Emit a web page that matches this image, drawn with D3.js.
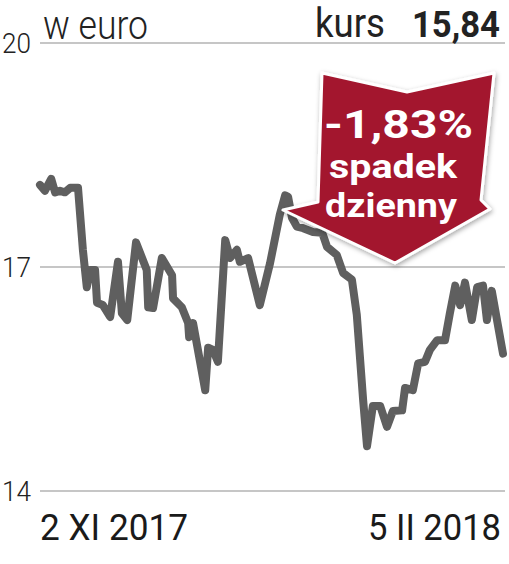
<!DOCTYPE html>
<html><head><meta charset="utf-8">
<script src="https://cdn.jsdelivr.net/npm/d3@7"></script>
<style>html,body{margin:0;padding:0;background:#fff;}svg{display:block;}</style>
</head><body>
<svg id="c" width="509" height="564"></svg>
<script>
// days since 2 XI 2017
const days = [0,1.0,2.3,3.1,4.1,5.1,6.2,7.8,8.8,9.6,10.3,11.3,11.7,12.9,14.4,16.0,16.8,17.9,19.7,21.9,22.2,23.2,25.0,27.1,27.3,29.1,30.4,30.6,31.4,33.9,34.5,35.5,36.5,38.0,39.0,40.4,41.0,42.7,45.1,47.2,49.2,50.3,50.9,51.7,52.7,54.0,56.0,57.9,58.9,60.9,62.2,64.0,65.0,66.3,67.1,68.3,69.8,71.2,72.4,74.3,74.9,76.5,77.6,79.0,80.0,81.5,83.1,84.1,85.2,86.2,87.2,88.6,89.7,90.9,91.7,92.7,95.0];
const prices = [18.10,18.02,18.18,18.00,18.02,18.00,18.06,18.06,17.23,16.73,16.96,16.96,16.52,16.49,16.33,17.07,16.38,16.29,17.33,16.96,16.46,16.45,17.12,16.89,16.58,16.46,16.25,16.06,16.25,15.35,15.92,15.89,15.73,17.36,17.12,17.23,17.07,17.12,16.49,17.05,17.70,17.96,17.94,17.66,17.54,17.52,17.47,17.46,17.27,17.16,16.92,16.83,16.36,15.22,14.60,15.14,15.14,14.86,15.07,15.08,15.38,15.35,15.71,15.73,15.89,16.02,16.02,16.38,16.75,16.49,16.79,16.29,16.73,16.75,16.29,16.68,15.84];
const yTicks = [14,17,20];
const dateLabels = ["2 XI 2017","5 II 2018"];
const unitLabel = "w euro";
const kursLabel = "kurs";
const kursValue = "15,84";
const changeLabel = "-1,83%";
const changeText = ["spadek","dzienny"];

const svg = d3.select("#c");
const x = d3.scaleLinear().domain([0,95]).range([40,503]);
const y = d3.scaleLinear().domain([14,20]).range([491,43]);

const defs = svg.append("defs");
const f = defs.append("filter").attr("id","sh").attr("x","-20%").attr("y","-20%").attr("width","140%").attr("height","140%");
f.append("feDropShadow").attr("dx",1).attr("dy",2).attr("stdDeviation",2.5).attr("flood-color","#000").attr("flood-opacity",0.35);

// grid
svg.append("g").selectAll("line").data(yTicks).join("line")
  .attr("x1",40).attr("x2",505).attr("y1",d=>y(d)).attr("y2",d=>y(d))
  .attr("stroke","#b3b3b3").attr("stroke-width",1.6);
svg.append("g").selectAll("text").data(yTicks).join("text")
  .attr("x",2).attr("y",d=>y(d)+10).attr("font-family","Roboto").attr("font-weight",300)
  .attr("font-size",28).attr("fill","#222").attr("textLength",29).attr("lengthAdjust","spacingAndGlyphs")
  .text(d=>d);

// header
svg.append("text").attr("x",43).attr("y",38.5).attr("font-family","Roboto").attr("font-weight",300)
  .attr("font-size",40).attr("fill","#222").attr("textLength",105).attr("lengthAdjust","spacingAndGlyphs").text(unitLabel);
svg.append("text").attr("x",315).attr("y",37).attr("font-family","Roboto").attr("font-weight",400)
  .attr("font-size",41).attr("fill","#222").attr("textLength",70).attr("lengthAdjust","spacingAndGlyphs").text(kursLabel);
svg.append("text").attr("x",412).attr("y",37).attr("font-family","Roboto").attr("font-weight",700)
  .attr("font-size",36).attr("fill","#222").attr("textLength",88).attr("lengthAdjust","spacingAndGlyphs").text(kursValue);

// line
const pts = days.map((d,i)=>[d,prices[i]]);
svg.append("path").datum(pts)
  .attr("d",d3.line().x(d=>x(d[0])).y(d=>y(d[1])))
  .attr("fill","none").attr("stroke","#5f5f5f").attr("stroke-width",8)
  .attr("stroke-linejoin","round").attr("stroke-linecap","round");

// bottom labels
svg.append("text").attr("x",40).attr("y",540).attr("font-family","Roboto").attr("font-weight",400)
  .attr("font-size",37).attr("fill","#1a1a1a").attr("textLength",148).attr("lengthAdjust","spacingAndGlyphs").text(dateLabels[0]);
svg.append("text").attr("x",368).attr("y",540).attr("font-family","Roboto").attr("font-weight",400)
  .attr("font-size",36).attr("fill","#1a1a1a").attr("textLength",133).attr("lengthAdjust","spacingAndGlyphs").text(dateLabels[1]);

// arrow
const arrow = [[322,73],[407,92],[494,73],[481,200],[490,209],[395,263],[283,210],[318,202]];
svg.append("path").attr("d","M"+arrow.map(p=>p.join(",")).join("L")+"Z")
  .attr("fill","#a3172f").attr("stroke","#fff").attr("stroke-width",3).attr("stroke-linejoin","round")
  .attr("filter","url(#sh)");
svg.append("text").attr("x",324).attr("y",138).attr("font-family","Roboto").attr("font-weight",700)
  .attr("font-size",39).attr("fill","#fff").attr("textLength",149).attr("lengthAdjust","spacingAndGlyphs").text(changeLabel);
svg.append("text").attr("x",329).attr("y",178).attr("font-family","Roboto").attr("font-weight",700)
  .attr("font-size",34).attr("fill","#fff").attr("textLength",128).attr("lengthAdjust","spacingAndGlyphs").text(changeText[0]);
svg.append("text").attr("x",325).attr("y",217).attr("font-family","Roboto").attr("font-weight",700)
  .attr("font-size",34).attr("fill","#fff").attr("textLength",132).attr("lengthAdjust","spacingAndGlyphs").text(changeText[1]);
</script>
</body></html>
